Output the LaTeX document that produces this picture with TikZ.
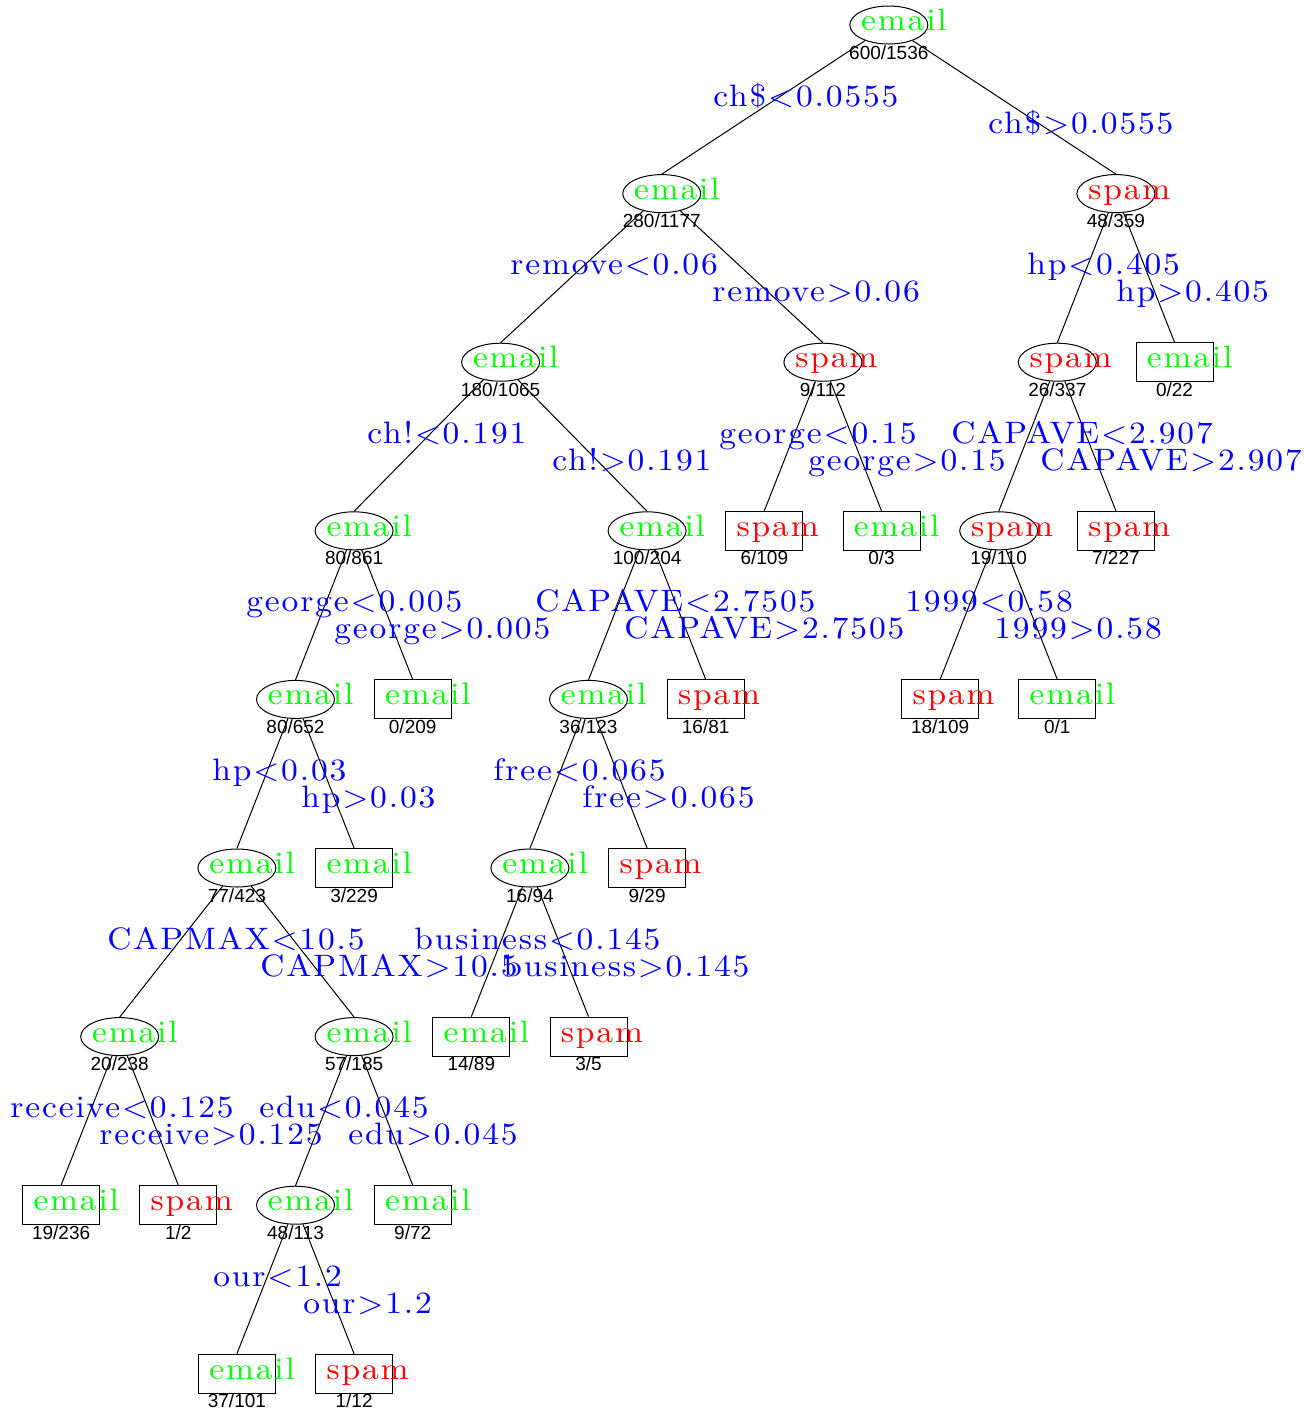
\documentclass[tikz,border=0pt]{standalone}
\usepackage{fontspec}
\newfontfamily\countfont{Liberation Sans}
\newfontfamily\splitfamily{lmroman10-regular.otf}[FakeStretch=1.08, LetterSpace=6]
\usetikzlibrary{shapes.geometric}

\newcommand{\splitfont}{\splitfamily\fontsize{15.5pt}{18pt}\selectfont}

\tikzset{
  splitnode/.style={ellipse, draw, line width=0.5pt, minimum width=39pt, minimum height=19pt, inner sep=0pt},
  leafnode/.style={rectangle, draw, line width=0.5pt, minimum width=38.5pt, minimum height=19.5pt, inner sep=0pt},
  class email/.style={text=green, font=\splitfont, inner sep=0pt},
  class spam/.style={text=red, font=\splitfont, inner sep=0pt},
  split/.style={text=blue, font=\splitfont, inner sep=0pt, anchor=base west},
  count/.style={font=\countfont\fontsize{9.5pt}{11pt}\selectfont, inner sep=0pt, anchor=base},
}

% name, shape, column, level, class, counts
\newcommand{\treenode}[6]{%
  \node[#2] (#1) at ({2.5+#3*\dx},{25+#4*\dy}) {};
  \node[class #5, anchor=base west] (#1-lab) at ([xshift=-14pt,yshift=-2.75pt]#1.center) {#5};
  \node[count] (#1-n) at ([yshift=-17pt]#1.center) {#6};
}

\begin{document}
\begin{tikzpicture}[x=0.5pt, y=-0.5pt]

    \def \dx{58.6};
    \def \dy{168.6};

    \useasboundingbox (0,0) rectangle (1304,1410);

    % level 0 - 2
    \treenode{n1}{splitnode}{15.125}{0}{email}{600/1536}
    \treenode{n2}{splitnode}{11.25}{1}{email}{280/1177}
    \treenode{n3}{splitnode}{19}{1}{spam}{48/359}
    \treenode{n4}{splitnode}{8.5}{2}{email}{180/1065}
    \treenode{n5}{splitnode}{14}{2}{spam}{9/112}
    \treenode{n6}{splitnode}{18}{2}{spam}{26/337}
    \treenode{n7}{leafnode}{20}{2}{email}{0/22}

    % level 3 - 4
    \treenode{n8}{splitnode}{6}{3}{email}{80/861}
    \treenode{n9}{splitnode}{11}{3}{email}{100/204}
    \treenode{n10}{leafnode}{13}{3}{spam}{6/109}
    \treenode{n11}{leafnode}{15}{3}{email}{0/3}
    \treenode{n12}{splitnode}{17}{3}{spam}{19/110}
    \treenode{n13}{leafnode}{19}{3}{spam}{7/227}
    \treenode{n16}{splitnode}{5}{4}{email}{80/652}
    \treenode{n17}{leafnode}{7}{4}{email}{0/209}
    \treenode{n18}{splitnode}{10}{4}{email}{36/123}
    \treenode{n19}{leafnode}{12}{4}{spam}{16/81}
    \treenode{n24}{leafnode}{16}{4}{spam}{18/109}
    \treenode{n25}{leafnode}{18}{4}{email}{0/1}

    % level 5 - 8
    \treenode{n32}{splitnode}{4}{5}{email}{77/423}
    \treenode{n33}{leafnode}{6}{5}{email}{3/229}
    \treenode{n36}{splitnode}{9}{5}{email}{16/94}
    \treenode{n37}{leafnode}{11}{5}{spam}{9/29}
    \treenode{n64}{splitnode}{2}{6}{email}{20/238}
    \treenode{n65}{splitnode}{6}{6}{email}{57/185}
    \treenode{n72}{leafnode}{8}{6}{email}{14/89}
    \treenode{n73}{leafnode}{10}{6}{spam}{3/5}
    \treenode{n128}{leafnode}{1}{7}{email}{19/236}
    \treenode{n129}{leafnode}{3}{7}{spam}{1/2}
    \treenode{n130}{splitnode}{5}{7}{email}{48/113}
    \treenode{n131}{leafnode}{7}{7}{email}{9/72}
    \treenode{n260}{leafnode}{4}{8}{email}{37/101}
    \treenode{n261}{leafnode}{6}{8}{spam}{1/12}

    % branches
    \foreach \p/\c in {n1/n2, n1/n3, n2/n4, n2/n5, n3/n6, n3/n7, n4/n8, n4/n9,
                       n5/n10, n5/n11, n6/n12, n6/n13, n8/n16, n8/n17, n9/n18, n9/n19,
                       n12/n24, n12/n25, n16/n32, n16/n33, n18/n36, n18/n37, n32/n64, n32/n65,
                       n36/n72, n36/n73, n64/n128, n64/n129, n65/n130, n65/n131, n130/n260, n130/n261} {
        \draw[line width=0.5pt] (\p) -- (\c.north);
    }

    % split labels: left edge, level, offset, text
    \foreach \x/\k/\o/\txt [count=\i] in {
        713/0/81/ch\$<0.0555, 988/0/108/ch\$>0.0555,
        510/1/81/remove<0.06, 712/1/108/remove>0.06,
        1027/1/81/hp<0.405, 1116/1/108/hp>0.405,
        367/2/81/ch!<0.191, 552/2/108/ch!>0.191,
        719/2/81/george<0.15, 808/2/108/george>0.15,
        951/2/81/CAPAVE<2.907, 1040/2/108/CAPAVE>2.907,
        246/3/81/george<0.005, 334/3/108/george>0.005,
        535/3/81/CAPAVE<2.7505, 624/3/108/CAPAVE>2.7505,
        905/3/81/1999<0.58, 994/3/108/1999>0.58,
        212/4/81/hp<0.03, 301/4/108/hp>0.03,
        493/4/81/free<0.065, 582/4/108/free>0.065,
        107/5/81/CAPMAX<10.5, 260/5/108/CAPMAX>10.5,
        414/5/81/business<0.145, 503/5/108/business>0.145,
        10/6/81/receive<0.125, 99/6/108/receive>0.125,
        259/6/81/edu<0.045, 348/6/108/edu>0.045,
        213/7/81/our<1.2, 303/7/108/our>1.2} {
        \node[split] (lab\i) at (\x,{25+\k*\dy+\o}) {\txt};
    }

\end{tikzpicture}
\end{document}
